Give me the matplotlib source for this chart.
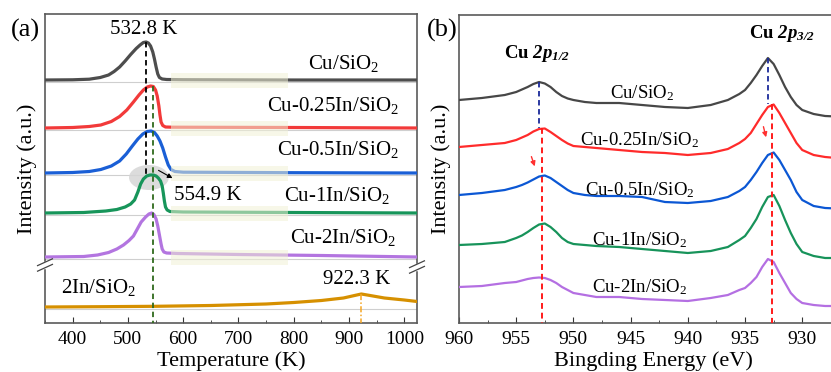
import numpy as np
import matplotlib.pyplot as plt
from matplotlib.patches import Ellipse, Rectangle
from matplotlib.ticker import MultipleLocator

plt.rcParams['font.family'] = ['Liberation Serif', 'DejaVu Serif']
plt.rcParams['mathtext.fontset'] = 'custom'
plt.rcParams['mathtext.rm'] = 'Liberation Serif'
plt.rcParams['mathtext.it'] = 'Liberation Serif:italic'
plt.rcParams['mathtext.bf'] = 'Liberation Serif:bold'
plt.rcParams['mathtext.bfit'] = 'Liberation Serif:bold:italic'

# ---------------- (a) H2-TPR ----------------
tpr_names = ['Cu/SiO$_2$', 'Cu-0.25In/SiO$_2$', 'Cu-0.5In/SiO$_2$',
             'Cu-1In/SiO$_2$', 'Cu-2In/SiO$_2$', '2In/SiO$_2$']
tpr_colors = ['#4d4d4d', '#f23a3a', '#1a5fd6', '#17955a', '#b375e0', '#d69000']

t_cu = [350, 400, 430, 450, 465, 475, 485, 495, 505, 515, 522, 528, 533, 537, 541, 545,
        548, 551, 554, 557, 562, 570, 600, 800, 1023]
h_cu = [0, 0.2, 0.8, 2.5, 5, 8.5, 13, 19, 25.5, 31.5, 35, 37.5, 38, 37, 34, 28,
        21, 13, 6, 2.5, 1, 0.5, 0.3, 0, 0]

t_025 = [350, 400, 430, 451, 470, 485, 498, 510, 520, 528, 535, 541, 546, 550, 553, 556,
         558, 560, 563, 568, 580, 800, 1023]
h_025 = [0, 0.5, 1.5, 3, 6.5, 11.5, 18, 26, 33, 38, 41, 42, 41.5, 38, 32, 22,
         13, 6, 2.5, 1, 0.8, 0.5, 0]

t_05 = [350, 400, 430, 451, 470, 485, 497, 508, 518, 527, 535, 542, 548, 553, 558, 563,
        568, 573, 578, 585, 600, 800, 1023]
h_05 = [0, 0.5, 1.5, 3.5, 7, 12, 19, 27, 34, 39, 41.5, 42, 40.5, 37, 32, 25,
        16, 8, 3.5, 1.5, 0.8, 0.3, 0]

t_1 = [350, 420, 460, 480, 495, 505, 512, 518, 523, 528, 534, 540, 546, 551, 555, 559,
       562, 564, 566, 568, 571, 576, 600, 800, 1023]
h_1 = [0, 0.5, 2, 3.5, 6, 9, 13, 21, 29, 34, 37, 38, 38, 37, 35, 32,
       27, 20, 12, 6, 3, 1.5, 1, 0.5, 0]

t_2 = [350, 420, 445, 465, 480, 492, 502, 510, 517, 524, 532, 538, 543, 547, 551, 554,
       557, 560, 562, 565, 570, 590, 700, 850, 1023]
h_2 = [0, 0.5, 2, 4.5, 8, 12, 16.5, 21, 28, 35, 40, 43, 44, 42.5, 38, 31,
       22, 13, 8, 5, 4, 3.5, 2.5, 1.5, 0]

t_in = [350, 450, 550, 650, 750, 800, 850, 890, 910, 922.3, 935, 964, 1000, 1023]
h_in = [0, 0.3, 0.7, 1.5, 3, 4.5, 6.5, 9, 11.5, 13, 11.8, 9, 7, 5.5]

tpr_t = [t_cu, t_025, t_05, t_1, t_2, t_in]
tpr_h = [h_cu, h_025, h_05, h_1, h_2, h_in]
tpr_offsets = [243, 195, 150, 110, 66, 16]

# ---------------- (b) XPS Cu 2p ----------------
xps_names = tpr_names[:5]
xps_colors = ['#474747', '#ff2b2b', '#0b57d4', '#17935a', '#b46fe2']
energy = [960, 958, 956, 955, 954.5, 954, 953.5, 953, 952.5, 952, 951.5, 951, 950.5, 950,
          949, 948, 946, 944, 942, 940, 938, 936.5, 935.5, 935, 934.5, 934, 933.5, 933,
          932.5, 932, 931.5, 931, 930.5, 930, 929, 928, 926]
xps_cu = [223, 225, 228, 231, 233.5, 236, 239, 241, 239.5, 236, 231, 227, 224.5, 223,
          221, 220, 220, 218, 216, 215, 218, 223, 229, 233, 240, 248, 257, 265,
          259, 248, 236, 226, 218, 213, 209, 207, 206]
xps_025 = [176, 178, 180, 183, 185.5, 188, 191.5, 194, 194.5, 191, 187, 183, 179.5, 177,
           176, 175, 173, 171, 170, 168, 170, 174, 180, 184, 190, 199, 208, 216,
           218.5, 210, 200, 190, 180, 173, 168, 166, 164]
xps_05 = [128, 130, 133, 136, 138, 140.5, 143.5, 146.5, 147.5, 145, 141, 137, 133, 130,
          128, 127, 127, 126, 121, 120, 122, 126, 132, 136, 143, 151, 160, 168,
          170.5, 163, 153, 143, 131, 123, 117, 115, 114]
xps_1 = [78, 79, 81, 85, 87.5, 91, 95, 98.5, 99.5, 96, 91, 85, 81, 79,
         78, 77, 76, 74, 72, 70, 72, 76, 83, 87, 95, 104, 116, 126,
         128, 117, 103, 90, 79, 71, 67, 65, 65]
xps_2 = [36, 37, 40, 41, 42.5, 44, 45, 45.5, 45, 43, 40, 36, 33, 30,
         28, 26, 26, 24, 23, 22, 25, 28, 33, 35, 40, 46, 56, 64,
         61, 50, 40, 30, 24, 20, 18, 17, 17]
xps_data = [xps_cu, xps_025, xps_05, xps_1, xps_2]

fig = plt.figure(figsize=(8.31, 3.72), dpi=100)
W, H = 831, 372
axa = fig.add_axes([45 / W, 1 - 323 / H, (417 - 45) / W, (323 - 14) / H])
axb = fig.add_axes([459 / W, 1 - 323 / H, (848 - 459) / W, (323 - 15) / H])

for ax in (axa, axb):
    for s in ax.spines.values():
        s.set_color('#5a5a5a')
        s.set_linewidth(1.2)
    ax.set_yticks([])
    ax.tick_params(axis='x', which='both', direction='in', labelsize=14, colors='#333333',
                   labelcolor='black', pad=6)
    ax.tick_params(axis='x', which='major', length=4)
    ax.tick_params(axis='x', which='minor', length=2.5)
    ax.set_ylabel('Intensity (a.u.)', fontsize=16, labelpad=6)

# panel a
axa.set_xlim(350, 1023)
axa.set_ylim(0, 309)
axa.xaxis.set_major_locator(MultipleLocator(100))
axa.xaxis.set_minor_locator(MultipleLocator(50))
axa.set_xlabel('Temperature (K)', fontsize=16, labelpad=2)

for t, h, off, c in zip(tpr_t, tpr_h, tpr_offsets, tpr_colors):
    axa.axhline(off - 2, color='#cfcfcf', lw=0.8, zorder=1)
    axa.plot(t, np.array(h) + off, color=c, lw=2.3, zorder=3, solid_joinstyle='round')
for off in tpr_offsets[:5]:
    axa.add_patch(Rectangle((578, off - 8), 212, 15, facecolor='#f1f1d6', alpha=0.55,
                            edgecolor='none', zorder=4))

axa.add_patch(Ellipse((538, 145.5), 72, 25, facecolor='#d6d6d6', alpha=0.85,
                      edgecolor='none', zorder=2))
axa.plot([532.8, 532.8], [281, 148], ls=(0, (3, 2)), color='black', lw=1.3, zorder=5)
axa.plot([545, 545], [237, 0], ls=(0, (3, 2)), color='#2f6a1c', lw=1.3, zorder=5)
axa.plot([922.3, 922.3], [29, 0], ls=(0, (4, 1.5, 1, 1.5)), color='#f5a623', lw=1.1, zorder=5)

axa.text(529, 293, '532.8 K', fontsize=15, ha='center', va='center')
axa.text(584, 127, '554.9 K', fontsize=15, ha='left', va='center')
axa.text(913, 43, '922.3 K', fontsize=15, ha='center', va='center')
axa.annotate('', xy=(585, 143.5), xytext=(551, 154),
             arrowprops=dict(arrowstyle='-|>', color='black', lw=0.8, mutation_scale=7), zorder=6)
lab_pos_a = [(890, 260), (872, 218), (879, 173), (879, 128), (890, 86)]
for name, (x, y) in zip(tpr_names[:5], lab_pos_a):
    axa.text(x, y, name, fontsize=15, ha='center', va='center')
axa.text(379, 36, tpr_names[5], fontsize=15, ha='left', va='center')

# axis break marks
for xf, yf in ((0.0, 58 / 309), (1.0, 56 / 309)):
    axa.plot([xf, xf], [yf - 0.008, yf + 0.008], transform=axa.transAxes, color='white',
             lw=2.5, clip_on=False, zorder=7)
    for dyy in (-0.009, 0.009):
        axa.plot([xf - 0.02, xf + 0.02], [yf + dyy - 0.011, yf + dyy + 0.011],
                 transform=axa.transAxes, color='#444444', lw=0.9, clip_on=False, zorder=8)

# panel b
axb.set_xlim(960, 926)
axb.set_ylim(0, 308)
axb.xaxis.set_major_locator(MultipleLocator(5))
axb.xaxis.set_minor_locator(MultipleLocator(2.5))
axb.set_xlabel('Bingding Energy (eV)', fontsize=16, labelpad=2)

for y, c in zip(xps_data, xps_colors):
    axb.plot(energy, y, color=c, lw=1.6, zorder=3, solid_joinstyle='round')

axb.plot([953.0, 953.0], [241, 195], ls=(0, (3, 2)), color='#1a2a9a', lw=1.3, zorder=4)
axb.plot([932.95, 932.95], [265, 219], ls=(0, (3, 2)), color='#1a2a9a', lw=1.3, zorder=4)
axb.plot([952.75, 952.75], [195, 0], ls=(0, (3, 2)), color='#ff1a1a', lw=1.4, zorder=4)
axb.plot([932.6, 932.6], [219, 0], ls=(0, (3, 2)), color='#ff1a1a', lw=1.4, zorder=4)
for (x0, y0), (x1, y1) in (((953.75, 169), (953.3, 154)), ((933.45, 199), (933.1, 183))):
    axb.annotate('', xy=(x1, y1), xytext=(x0, y0),
                 arrowprops=dict(arrowstyle='-|>', color='#ff3030', lw=1.0, mutation_scale=7))

axb.text(953.2, 270, r'Cu $\mathbfit{2p}_{\mathbfit{1/2}}$', fontsize=13.5, fontweight='bold',
         ha='center', va='center')
axb.text(931.8, 290, r'Cu $\mathbfit{2p}_{\mathbfit{3/2}}$', fontsize=13.5, fontweight='bold',
         ha='center', va='center')
lab_pos_b = [(944.0, 230), (944.2, 183), (944.2, 133), (944.2, 83), (944.2, 36)]
for name, (x, y) in zip(xps_names, lab_pos_b):
    axb.text(x, y, name, fontsize=13.5, ha='center', va='center')

fig.text(25 / W, 1 - 30 / H, '(a)', fontsize=19, ha='center', va='center')
fig.text(442 / W, 1 - 30 / H, '(b)', fontsize=19, ha='center', va='center')

fig.savefig('out.png', dpi=100)
